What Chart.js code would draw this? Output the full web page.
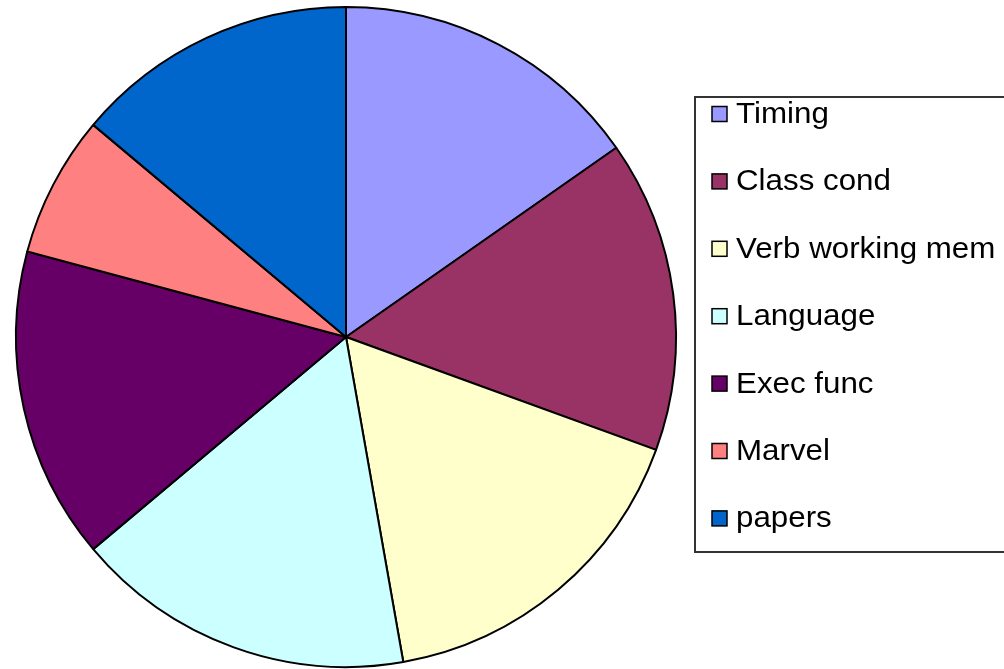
<!DOCTYPE html>
<html lang="en">
<head>
    <meta charset="UTF-8">
    <title>Pie chart</title>
    <script src="https://cdn.jsdelivr.net/npm/chart.js"></script>
    <style>
        html, body { margin: 0; padding: 0; background: #fff; overflow: hidden; }
        #wrap { position: relative; width: 1004px; height: 669px; }
    </style>
</head>
<body>
    <div id="wrap">
        <canvas id="pieChart" width="1004" height="669"></canvas>
    </div>
    <script>
        // categories and counts
        const categories = ['Timing', 'Class cond', 'Verb working mem', 'Language', 'Exec func', 'Marvel', 'papers'];
        const counts = [11, 11, 12, 12, 11, 5, 10];
        const sliceColors = ['#9999FF', '#993366', '#FFFFCC', '#CCFFFF', '#660066', '#FF8080', '#0066CC'];

        // legend box drawn by hand, old-Excel style
        const boxLegend = {
            id: 'boxLegend',
            afterDraw(chart) {
                const ctx = chart.ctx;
                const ds = chart.data.datasets[0];
                ctx.save();
                ctx.strokeStyle = '#333';
                ctx.lineWidth = 2;
                ctx.strokeRect(695, 97, 340, 455);

                ctx.font = '29px "Liberation Sans", Arial, sans-serif';
                ctx.textBaseline = 'alphabetic';
                ctx.textAlign = 'left';
                chart.data.labels.forEach((label, i) => {
                    const y = 114 + i * 67.4;
                    ctx.fillStyle = ds.backgroundColor[i];
                    ctx.fillRect(712, y - 7.5, 15, 15);
                    ctx.lineWidth = 1.5;
                    ctx.strokeStyle = '#000';
                    ctx.strokeRect(712, y - 7.5, 15, 15);
                    // text in the picture is a bit stretched sideways
                    ctx.save();
                    ctx.translate(736, y + 9);
                    ctx.scale(1.08, 1);
                    ctx.fillStyle = '#000';
                    ctx.fillText(label, 0, 0);
                    ctx.restore();
                });
                ctx.restore();
            }
        };

        new Chart(document.getElementById('pieChart'), {
            type: 'pie',
            data: {
                labels: categories,
                datasets: [{
                    data: counts,
                    backgroundColor: sliceColors,
                    borderColor: '#000',
                    borderWidth: 2
                }]
            },
            options: {
                responsive: false,
                animation: false,
                layout: {
                    padding: { left: 15, right: 327, top: 6, bottom: 1 }
                },
                plugins: {
                    legend: { display: false },
                    tooltip: { enabled: false }
                }
            },
            plugins: [boxLegend]
        });
    </script>
</body>
</html>
